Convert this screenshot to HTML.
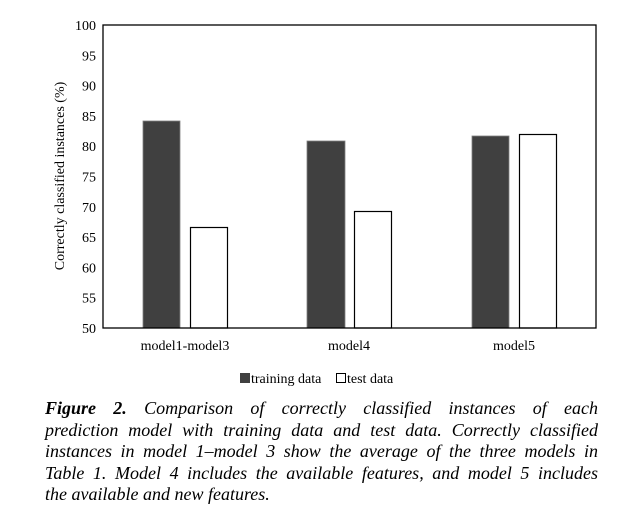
<!DOCTYPE html>
<html><head><style>
body{margin:0;width:634px;height:520px;background:#fff;position:relative;overflow:hidden;font-family:"Liberation Serif",serif}
.cap{position:absolute;left:45px;width:553px;font-style:italic;font-size:18px;line-height:21.5px;top:398px}
.cap div{text-align:justify;text-align-last:justify;white-space:nowrap}
.cap div.last{text-align-last:left}
</style></head><body>
<svg width="634" height="400" style="position:absolute;left:0;top:0" font-family="Liberation Serif, serif">
<g font-size="14" text-anchor="end" fill="#000">
<text x="96" y="30">100</text><text x="96" y="60.3">95</text><text x="96" y="90.6">90</text><text x="96" y="120.9">85</text><text x="96" y="151.2">80</text><text x="96" y="181.5">75</text><text x="96" y="211.8">70</text><text x="96" y="242.1">65</text><text x="96" y="272.4">60</text><text x="96" y="302.7">55</text><text x="96" y="333">50</text>
</g>
<text transform="translate(64,176) rotate(-90)" font-size="14" text-anchor="middle">Correctly classified instances (%)</text>
<rect x="143" y="121" width="37" height="207" fill="#404040" stroke="#808080" stroke-width="0.8"/>
<rect x="190.5" y="227.5" width="37" height="100.5" fill="#fff" stroke="#000" stroke-width="1.2"/>
<rect x="307" y="141" width="38" height="187" fill="#404040" stroke="#808080" stroke-width="0.8"/>
<rect x="354.5" y="211.5" width="37" height="116.5" fill="#fff" stroke="#000" stroke-width="1.2"/>
<rect x="472" y="136" width="37" height="192" fill="#404040" stroke="#808080" stroke-width="0.8"/>
<rect x="519.5" y="134.5" width="37" height="193.5" fill="#fff" stroke="#000" stroke-width="1.2"/>
<rect x="103" y="25" width="493" height="303" fill="none" stroke="#000" stroke-width="1.3"/>
<g font-size="14" text-anchor="middle">
<text x="185" y="350">model1-model3</text><text x="349" y="350">model4</text><text x="514" y="350">model5</text>
</g>
<rect x="240" y="373" width="10" height="10" fill="#404040"/>
<text x="251" y="383" font-size="14">training data</text>
<rect x="336.5" y="373.5" width="9" height="9" fill="#fff" stroke="#000" stroke-width="1"/>
<text x="347" y="383" font-size="14">test data</text>
</svg>
<div class="cap">
<div><b>Figure 2.</b> Comparison of correctly classified instances of each</div>
<div>prediction model with training data and test data. Correctly classified</div>
<div>instances in model 1–model 3 show the average of the three models in</div>
<div>Table 1. Model 4 includes the available features, and model 5 includes</div>
<div class="last">the available and new features.</div>
</div>
</body></html>
